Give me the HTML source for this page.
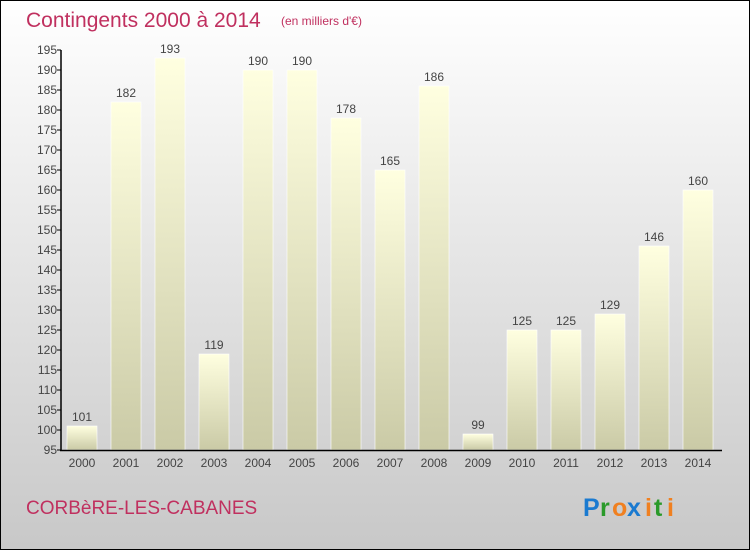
<!DOCTYPE html>
<html><head><meta charset="utf-8"><style>
body{margin:0}
svg{display:block;font-family:"Liberation Sans",sans-serif}
</style></head><body>
<svg width="750" height="550" xmlns="http://www.w3.org/2000/svg">
<defs>
<linearGradient id="bg" x1="0" y1="0" x2="0" y2="1"><stop offset="0" stop-color="#ffffff"/><stop offset="1" stop-color="#c8c8c8"/></linearGradient>
<linearGradient id="bar" x1="0" y1="0" x2="0" y2="1"><stop offset="0" stop-color="#ffffe0"/><stop offset="1" stop-color="#cacaa6"/></linearGradient>
</defs>
<rect x="0.5" y="0.5" width="749" height="549" fill="url(#bg)" stroke="#000"/>
<text x="26" y="27" font-size="21" fill="#c0305f">Contingents 2000 à 2014</text>
<text x="281" y="25" font-size="12" fill="#c0305f">(en milliers d'€)</text>
<g id="plot"></g>
<text x="26" y="514" font-size="19" fill="#c0305f">CORBèRE-LES-CABANES</text>
<g font-size="25" font-weight="bold">
<text x="583" y="516" fill="#1a7ad0">P</text><text x="600" y="516" fill="#2a9a2a">r</text><text x="612" y="516" fill="#f08020">o</text><text x="627" y="516" fill="#1a7ad0">x</text><text x="645" y="516" fill="#f08020">i</text><text x="654" y="516" fill="#2a9a2a">t</text><text x="667" y="516" fill="#f08020">i</text>
</g>
</svg>
<script>
const categories=["2000","2001","2002","2003","2004","2005","2006","2007","2008","2009","2010","2011","2012","2013","2014"];
const values=[101,182,193,119,190,190,178,165,186,99,125,125,129,146,160];
const yTicks=[95,100,105,110,115,120,125,130,135,140,145,150,155,160,165,170,175,180,185,190,195];
const NS="http://www.w3.org/2000/svg";
const g=document.getElementById('plot');
const y=v=>450-(v-95)*4;
const x=i=>67+i*44;
function mk(t,a){const e=document.createElementNS(NS,t);for(const k in a)e.setAttribute(k,a[k]);g.appendChild(e);return e;}
values.forEach((v,i)=>{
 const r=mk('rect',{x:x(i),y:y(v),width:30,height:450-y(v),fill:'url(#bar)',stroke:'#fff','stroke-width':0.6});
 
 
 const t=mk('text',{x:x(i)+15,y:y(v)-5,'font-size':12,fill:'#444','text-anchor':'middle'});
 t.textContent=v;
 
 
 const c=mk('text',{x:x(i)+15,y:467,'font-size':12,fill:'#444','text-anchor':'middle'});
 c.textContent=categories[i];
 
 
});
yTicks.forEach(v=>{
 const l=mk('line',{x1:57,x2:61,y1:y(v),y2:y(v),stroke:'#000'});
 
 
 const t=mk('text',{x:57,y:y(v)+4,'font-size':12,fill:'#444','text-anchor':'end'});
 t.textContent=v;
 
 
});
const ya=mk('line',{x1:61,x2:61,y1:y(195),y2:451,stroke:'#000','stroke-width':1.5});


const xa=mk('line',{x1:60,x2:722,y1:450.5,y2:450.5,stroke:'#000','stroke-width':1.5});


</script>
</body></html>
